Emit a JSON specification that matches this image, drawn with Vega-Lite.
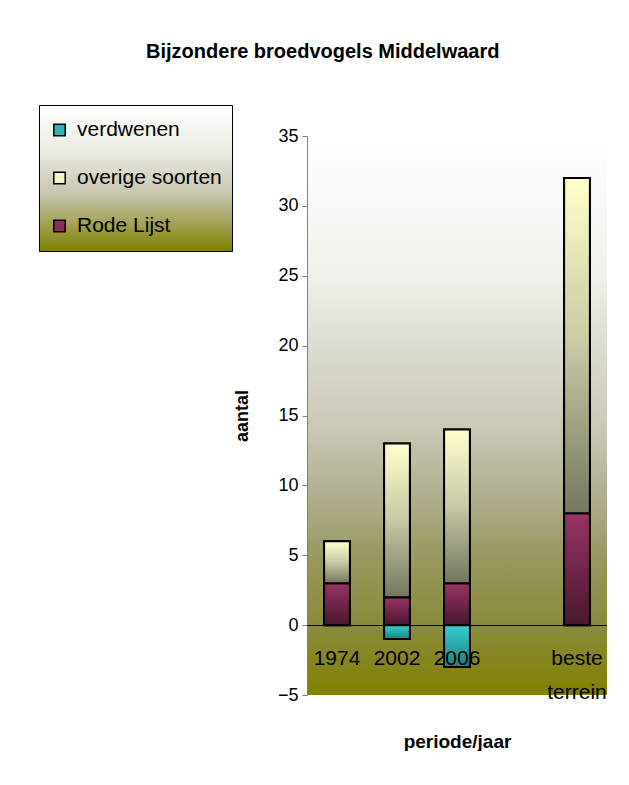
{
  "$schema": "https://vega.github.io/schema/vega-lite/v6.json",
  "width": 300,
  "height": 559,
  "padding": {"left": 38, "top": 41, "right": 0, "bottom": 0},
  "background": "white",
  "title": {
    "text": "Bijzondere broedvogels Middelwaard",
    "anchor": "middle",
    "frame": "bounds",
    "font": "Liberation Sans",
    "fontSize": 20,
    "fontWeight": "bold",
    "color": "black",
    "offset": 43
  },
  "config": {
    "font": "Liberation Sans",
    "view": {
      "stroke": null,
      "fill": {
        "gradient": "linear", "x1": 0, "y1": 0, "x2": 0, "y2": 1,
        "stops": [
          {"offset": 0, "color": "#ffffff"},
          {"offset": 0.25, "color": "#f0f0ea"},
          {"offset": 0.375, "color": "#dddcd0"},
          {"offset": 0.5, "color": "#cfcbbb"},
          {"offset": 0.625, "color": "#b5b396"},
          {"offset": 0.75, "color": "#999960"},
          {"offset": 0.875, "color": "#8a8a3c"},
          {"offset": 1, "color": "#808000"}
        ]
      }
    }
  },
  "data": {
    "values": [
      {"periode": "1974", "serie": "Rode Lijst", "aantal": 3},
      {"periode": "1974", "serie": "overige soorten", "aantal": 3},
      {"periode": "2002", "serie": "Rode Lijst", "aantal": 2},
      {"periode": "2002", "serie": "overige soorten", "aantal": 11},
      {"periode": "2002", "serie": "verdwenen", "aantal": -1},
      {"periode": "2006", "serie": "Rode Lijst", "aantal": 3},
      {"periode": "2006", "serie": "overige soorten", "aantal": 11},
      {"periode": "2006", "serie": "verdwenen", "aantal": -3},
      {"periode": "beste terrein", "serie": "Rode Lijst", "aantal": 8},
      {"periode": "beste terrein", "serie": "overige soorten", "aantal": 24}
    ]
  },
  "encoding": {
    "x": {
      "field": "periode",
      "type": "nominal",
      "sort": null,
      "scale": {"domain": ["1974", "2002", "2006", " ", "beste terrein"], "paddingInner": 0, "paddingOuter": 0},
      "axis": {
        "offset": -70,
        "zindex": 1,
        "domain": true,
        "domainColor": "black",
        "domainWidth": 1,
        "ticks": false,
        "labelAngle": 0,
        "labelFontSize": 21,
        "labelColor": "black",
        "labelPadding": 22,
        "labelLineHeight": 34,
        "labelExpr": "datum.value == 'beste terrein' ? ['beste', 'terrein'] : datum.value",
        "title": "periode/jaar",
        "titleFontSize": 19,
        "titleFontWeight": "bold",
        "titleColor": "black",
        "titlePadding": 30
      }
    },
    "y": {
      "field": "aantal",
      "type": "quantitative",
      "stack": "zero",
      "scale": {"domain": [-5, 35], "nice": false},
      "axis": {
        "values": [-5, 0, 5, 10, 15, 20, 25, 30, 35],
        "grid": false,
        "domainColor": "#7f7f7f",
        "tickColor": "#7f7f7f",
        "tickSize": 5,
        "labelFontSize": 18,
        "labelColor": "black",
        "labelPadding": 4,
        "title": "aantal",
        "titleFontSize": 18,
        "titleFontWeight": "bold",
        "titleColor": "black",
        "titlePadding": 26
      }
    },
    "order": {"field": "serie", "sort": "ascending"}
  },
  "layer": [
    {
      "mark": {"type": "bar", "stroke": "black", "strokeWidth": 2, "width": {"band": 0.43}},
      "encoding": {
        "color": {
          "field": "serie",
          "type": "nominal",
          "scale": {
            "domain": ["verdwenen", "overige soorten", "Rode Lijst"],
            "range": ["#2fb5b5", "#f4f4c8", "#8a2e5c"]
          },
          "legend": {
            "title": null,
            "orient": "none",
            "legendX": -268,
            "legendY": -31,
            "padding": 10,
            "rowPadding": 18,
            "clipHeight": 30,
            "strokeColor": "black",
            "fillColor": {"value": {
              "gradient": "linear", "x1": 0, "y1": 0, "x2": 0, "y2": 1,
              "stops": [
                {"offset": 0, "color": "#ffffff"},
                {"offset": 0.3, "color": "#ecece4"},
                {"offset": 0.6, "color": "#c8c6b0"},
                {"offset": 1, "color": "#808000"}
              ]
            }},
            "symbolType": "square",
            "symbolSize": 130,
            "symbolStrokeColor": "black",
            "symbolStrokeWidth": 1.5,
            "labelFontSize": 21,
            "labelColor": "black",
            "labelOffset": 7,
            "labelLimit": 300
          }
        }
      }
    },
    {
      "mark": {"type": "bar", "stroke": "black", "strokeWidth": 2, "width": {"band": 0.43}},
      "encoding": {
        "fill": {
          "condition": [
            {"test": "datum.serie === 'verdwenen'",
             "value": {"gradient": "linear", "x1": 0, "y1": 0, "x2": 0, "y2": 1,
               "stops": [{"offset": 0, "color": "#36cfcf"}, {"offset": 1, "color": "#1f8080"}]}},
            {"test": "datum.serie === 'overige soorten'",
             "value": {"gradient": "linear", "x1": 0, "y1": 0, "x2": 0, "y2": 1,
               "stops": [{"offset": 0, "color": "#ffffcc"}, {"offset": 0.5, "color": "#c8c8a4"}, {"offset": 1, "color": "#76765e"}]}}
          ],
          "value": {"gradient": "linear", "x1": 0, "y1": 0, "x2": 0, "y2": 1,
            "stops": [{"offset": 0, "color": "#993366"}, {"offset": 1, "color": "#48182e"}]}
        }
      }
    }
  ]
}
